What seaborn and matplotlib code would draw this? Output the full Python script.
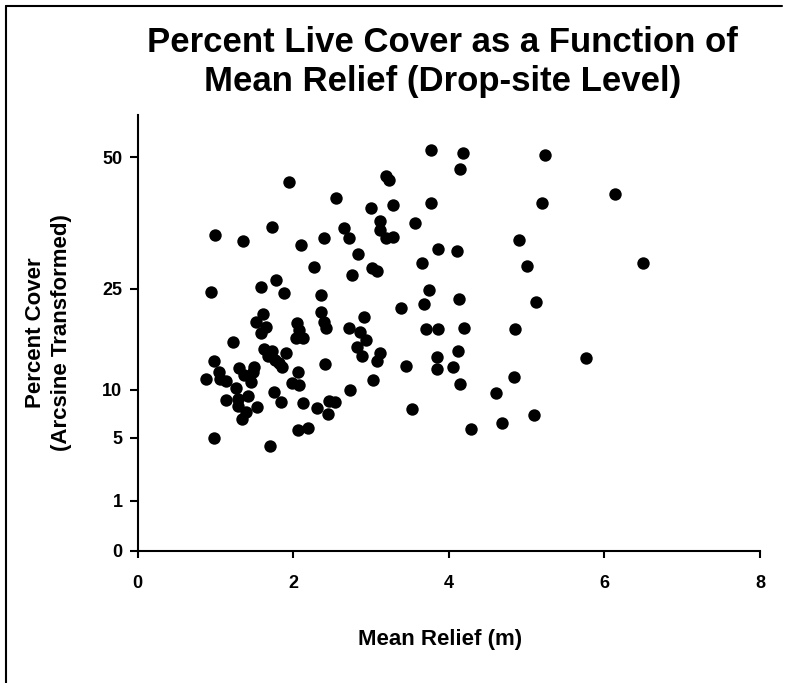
import numpy as np
import pandas as pd
import matplotlib
matplotlib.use("Agg")
import matplotlib.pyplot as plt
import seaborn as sns
from matplotlib.lines import Line2D

# Mean relief (m) for each drop site
mean_relief = [
    1.94, 2.55, 1.00, 1.36, 1.73, 2.10, 2.40, 2.65, 2.72, 2.27,
    2.76, 1.78, 1.59, 0.94, 1.88, 2.35, 1.61, 1.52, 1.65, 1.58,
    2.05, 2.08, 2.12, 2.04, 2.35, 2.39, 2.42, 2.72, 1.23, 1.62,
    1.73, 1.68, 1.77, 1.82, 1.86, 1.91, 2.41, 0.98, 0.88, 1.04,
    1.06, 1.14, 1.30, 1.37, 1.49, 1.48, 1.46, 1.27, 1.29, 1.13,
    1.42, 1.29, 1.39, 1.34, 1.53, 1.75, 1.84, 1.98, 2.06, 2.07,
    2.12, 2.31, 2.44, 2.46, 2.54, 2.73, 0.98, 1.70, 2.06, 2.19,
    3.77, 4.18, 5.24, 4.14, 3.19, 3.23, 3.00, 3.28, 3.77, 5.20,
    3.11, 3.11, 3.19, 3.28, 3.57, 2.83, 3.01, 3.08, 3.65, 3.86,
    4.11, 4.90, 5.01, 3.75, 3.68, 3.39, 4.13, 5.12, 2.91, 2.86,
    2.94, 3.70, 3.86, 4.20, 4.85, 2.82, 2.88, 3.11, 3.07, 3.45,
    3.02, 3.52, 3.85, 3.85, 4.05, 4.12, 4.14, 4.28, 4.61, 4.68,
    4.84, 5.09, 6.14, 6.49, 5.76,
]

# Percent live cover, arcsine-square-root transformed (degrees)
cover_asin = [
    42.21, 40.29, 36.12, 35.47, 37.00, 34.94, 35.72, 36.95, 35.72, 32.43,
    31.55, 30.98, 30.12, 29.55, 29.46, 29.26, 27.09, 26.21, 25.60, 24.97,
    26.09, 25.26, 24.31, 24.29, 27.32, 26.17, 25.49, 25.45, 23.83, 23.12,
    22.89, 22.29, 21.83, 21.52, 21.07, 22.67, 21.37, 21.72, 19.66, 20.40,
    19.63, 19.43, 20.88, 20.06, 21.05, 20.49, 19.37, 18.60, 17.37, 17.26,
    17.75, 16.57, 15.92, 15.09, 16.49, 18.21, 17.03, 19.17, 20.46, 18.92,
    16.92, 16.38, 15.66, 17.09, 17.00, 18.35, 12.92, 12.04, 13.83, 14.06,
    45.83, 45.53, 45.26, 43.63, 42.90, 42.41, 39.24, 39.49, 39.78, 39.78,
    37.72, 36.69, 35.72, 35.92, 37.49, 33.98, 32.35, 31.95, 32.88, 34.48,
    34.29, 35.55, 32.58, 29.83, 28.23, 27.81, 28.75, 28.43, 26.69, 25.07,
    24.17, 25.37, 25.37, 25.45, 25.34, 23.26, 22.29, 22.60, 21.75, 21.18,
    19.54, 16.26, 22.21, 20.77, 21.07, 22.86, 19.05, 13.91, 18.02, 14.66,
    19.92, 15.54, 40.84, 32.88, 22.09,
]

# Axis tick labels
y_tick_percent = [0, 1, 5, 10, 25, 50]
x_ticks = [0, 2, 4, 6, 8]

sns.set_theme(style="ticks")
plt.rcParams["font.family"] = ["Liberation Sans", "DejaVu Sans"]
plt.rcParams["text.color"] = "black"
plt.rcParams["axes.labelcolor"] = "black"

fig = plt.figure(figsize=(7.85, 6.83), dpi=100)
fig.patch.set_facecolor("white")
ax = fig.add_axes([0.1754, 0.1933, 0.7928, 0.6383])

df = pd.DataFrame({"relief": mean_relief, "cover": cover_asin})
sns.scatterplot(data=df, x="relief", y="cover", ax=ax,
                color="black", s=80, edgecolor="black", linewidth=0)

# Y ticks sit at the transformed position of each percent value
y_tick_pos = np.degrees(np.arcsin(np.sqrt(np.array(y_tick_percent) / 100.0)))
ax.set_yticks(y_tick_pos)
ax.set_yticklabels([str(v) for v in y_tick_percent])
ax.set_xticks(x_ticks)
ax.set_xticklabels([str(v) for v in x_ticks])
ax.set_xlim(0, 8)
ax.set_ylim(0, 49.83)

sns.despine(ax=ax)
for side in ("left", "bottom"):
    ax.spines[side].set_linewidth(1.5)
    ax.spines[side].set_color("black")

ax.tick_params(axis="both", direction="out", width=1.5, color="black",
               labelsize=13, labelcolor="black")
ax.tick_params(axis="y", length=6, pad=5)
ax.tick_params(axis="x", length=5, pad=12)
for lab in ax.get_xticklabels() + ax.get_yticklabels():
    lab.set_fontweight("bold")

ax.set_xlabel("Mean Relief (m)", fontsize=16, fontweight="bold", va="center")
ax.xaxis.set_label_coords(0.486, -0.203)
ax.set_ylabel("Percent Cover\n(Arcsine Transformed)", fontsize=16,
              fontweight="bold", va="center", linespacing=1.35)
ax.yaxis.set_label_coords(-0.143, 0.5)

fig.text(0.564, 1 - 62 / 683, "Percent Live Cover as a Function of\nMean Relief (Drop-site Level)",
         ha="center", va="center", fontsize=25, fontweight="bold", linespacing=1.2)

# Frame lines along the top and left edges of the figure
fig.add_artist(Line2D([5.5 / 785, 782 / 785], [1 - 5.5 / 683, 1 - 5.5 / 683],
                      transform=fig.transFigure, color="black", linewidth=1.5))
fig.add_artist(Line2D([5.5 / 785, 5.5 / 785], [1 - 5.5 / 683, 0],
                      transform=fig.transFigure, color="black", linewidth=1.5))

fig.savefig("out.png", dpi=100, facecolor="white")
